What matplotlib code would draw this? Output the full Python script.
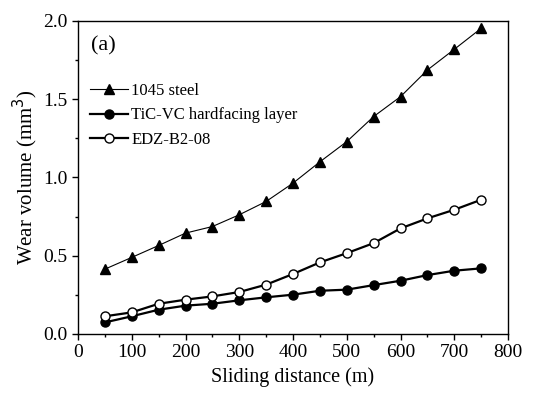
import matplotlib
matplotlib.use("Agg")
import matplotlib.pyplot as plt
from matplotlib.ticker import MultipleLocator, FormatStrFormatter

distance = [50, 100, 150, 200, 250, 300, 350, 400, 450, 500, 550, 600, 650, 700, 750]
steel_1045 = [0.414, 0.489, 0.565, 0.644, 0.686, 0.761, 0.846, 0.963, 1.099, 1.228,
              1.388, 1.515, 1.685, 1.817, 1.951]
tic_vc = [0.074, 0.113, 0.155, 0.181, 0.193, 0.215, 0.234, 0.251, 0.276, 0.283,
          0.312, 0.340, 0.376, 0.404, 0.419]
edz_b2_08 = [0.113, 0.138, 0.193, 0.219, 0.240, 0.268, 0.315, 0.383, 0.457, 0.516,
             0.580, 0.674, 0.738, 0.793, 0.857]
labels = ["1045 steel", "TiC-VC hardfacing layer", "EDZ-B2-08"]

plt.rcParams['font.family'] = ['Liberation Serif', 'DejaVu Serif']

fig = plt.figure(figsize=(5.37, 3.94), dpi=100)
ax = fig.add_axes([0.1453, 0.1523, 0.8007, 0.7952])

ax.plot(distance, steel_1045, '-^', color='black', lw=0.8, ms=7, label=labels[0])
ax.plot(distance, tic_vc, '-o', color='black', lw=1.6, ms=6.5, label=labels[1])
ax.plot(distance, edz_b2_08, '-o', color='black', lw=1.6, ms=6.5,
        markerfacecolor='white', markeredgewidth=1.0, label=labels[2])

ax.set_xlim(0, 800)
ax.set_ylim(0, 2.0)
ax.xaxis.set_major_locator(MultipleLocator(100))
ax.xaxis.set_minor_locator(MultipleLocator(50))
ax.yaxis.set_major_locator(MultipleLocator(0.5))
ax.yaxis.set_minor_locator(MultipleLocator(0.25))
ax.tick_params(which='major', direction='out', length=4, width=1.0, labelsize=14)
ax.tick_params(which='minor', direction='out', length=2.5, width=1.0)
ax.xaxis.set_major_formatter(FormatStrFormatter('%d'))
ax.yaxis.set_major_formatter(FormatStrFormatter('%.1f'))
for s in ax.spines.values():
    s.set_linewidth(1.0)

ax.set_xlabel('Sliding distance (m)', fontsize=14.5)
ax.set_ylabel('Wear volume (mm$^3$)', fontsize=15, labelpad=2)
ax.text(0.03, 0.95, '(a)', transform=ax.transAxes, fontsize=16, va='top', ha='left')

ax.legend(loc='upper left', bbox_to_anchor=(0.0, 0.838), frameon=False, fontsize=12,
          handlelength=2.3, handletextpad=0.2, labelspacing=0.5, borderaxespad=0.3)

fig.savefig('out.png', dpi=100)
